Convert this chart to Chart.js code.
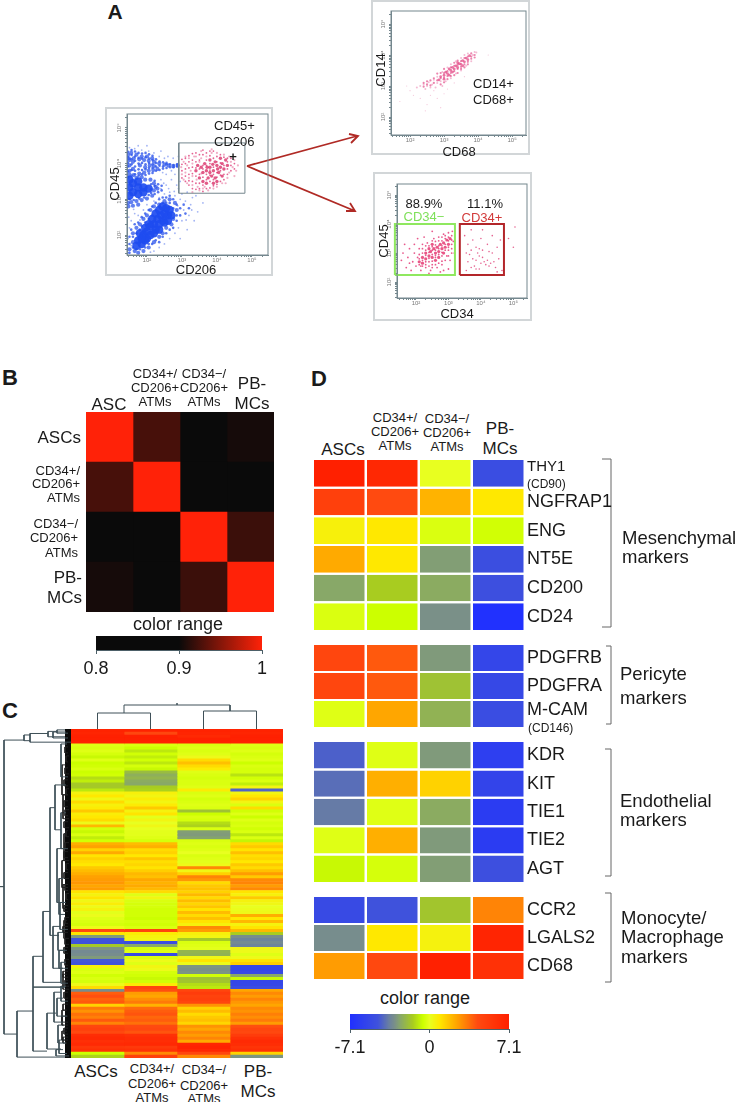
<!DOCTYPE html>
<html>
<head>
<meta charset="utf-8">
<title>ATM expression figure</title>
<script src="https://cdn.jsdelivr.net/npm/chart.js@4/dist/chart.umd.min.js"></script>
<style>
  html, body { margin: 0; background: #fff; }
  #page { position: relative; width: 738px; height: 1102px; overflow: hidden; font-family: "Liberation Sans", Arial, sans-serif; color: #1a1a1a; }
  #page canvas { position: absolute; display: block; }
  #page svg { position: absolute; left: 0; top: 0; }
  .t { position: absolute; white-space: nowrap; line-height: 1; }
  .frame { position: absolute; border: 2px solid #d2d6d8; box-sizing: border-box; }
</style>
</head>
<body>
<div id="page">
  <div class="frame" style="left:105px;top:107px;width:168px;height:169px"></div>
  <div class="frame" style="left:371px;top:0;width:159px;height:155px"></div>
  <div class="frame" style="left:373px;top:172px;width:159px;height:149px"></div>
  <svg width="738" height="1102" fill="none">
    <g stroke="#b02a25" stroke-width="1.8">
      <path d="M247 166 L357 136 M349 134 L358 136 L351 143"/>
      <path d="M247 166 L355 211 M346 211 L355 211 L350 203"/>
    </g>
    <g stroke="#666" stroke-width="1">
      <path d="M602 459 H611 V627 H602"/>
      <path d="M606 646 H611 V724 H606"/>
      <path d="M605 749 H611 V876 H605"/>
      <path d="M605 893 H611 V982 H605"/>
    </g>
  </svg>
</div>
<script>
// panel A, all values are log10 fluorescence
const decades = [2, 3, 4, 5];

const cd206Core = [[1.5,3.33],[1.6,3.2],[1.6,3.45],[1.75,3.33],[1.75,3.15],[1.75,3.5],[1.9,3.33],[1.9,3.2],[2.05,3.3],[1.5,3.1],[1.5,3.55],
  [1.75,1.85],[1.9,2.0],[1.85,1.75],[2.0,2.1],[2.1,2.0],[2.1,2.25],[2.2,2.3],[2.25,2.15],[2.3,2.45],[2.4,2.55],[2.45,2.4],[2.5,2.6],[2.55,2.75],[2.35,2.3],[1.95,1.85],[2.65,2.7],[2.6,2.55],
  [2.05,2.3],[2.15,2.45],[2.25,2.6],[2.35,2.7],[2.45,2.8],[1.8,2.05],[1.95,2.2],[2.0,1.9],[2.2,2.05],[2.35,2.15],[2.5,2.35],[2.6,2.4],[2.7,2.55],[1.7,1.7],[1.85,1.9]];
const cd206Mid = [[1.5,3.95],[1.6,4.05],[1.6,3.85],[1.8,3.95],[1.95,3.9],[1.5,4.1],[1.5,3.8],
  [1.46,4.25],[1.55,4.3],[1.7,4.25],[1.85,4.2],[2.0,4.2],[2.15,4.15],[1.48,4.15],[1.62,4.15],[1.78,4.12],[1.92,4.1],[2.05,4.08],[2.2,4.05],[2.35,4.0],[2.5,3.97],[2.62,3.95],[2.75,3.93],[2.88,3.95],[1.5,3.7],[1.62,3.68],[1.78,3.72],[1.92,3.75],[2.05,3.8],[2.18,3.82],[2.3,3.85],[2.08,3.95],[2.2,3.93],[1.7,3.6],[1.85,3.62],
  [1.46,2.9],[1.55,2.92],[1.7,2.95],[1.85,2.98],[2.0,3.02],[2.15,3.1],[2.2,3.25],[2.25,3.35],[2.2,3.45],[2.1,3.55],[1.95,3.55],[2.3,3.3],[1.47,2.8],[1.6,2.82],[1.75,2.85],
  [1.5,1.6],[1.65,1.55],[1.6,1.8],[1.6,2.05],[1.7,2.2],[1.8,2.3],[1.9,2.45],[2.0,2.55],[2.1,2.7],[2.2,2.8],[2.35,2.85],[2.5,2.95],[2.65,3.0],[2.8,2.9],[2.85,2.7],[2.75,2.45],[2.7,2.3],[2.55,2.2],[2.45,2.05],[2.35,1.95],[2.2,1.8],[2.05,1.65],[1.9,1.55],[1.75,1.5]];
const cd206Fine = [[1.46,3.62],[1.46,3.78],[1.46,3.92],[1.46,4.02],[1.46,4.18],[1.46,4.33],[1.56,3.66],[1.56,3.82],[1.56,3.98],[1.56,4.12],[1.56,4.24],[1.56,4.38],
  [1.66,3.7],[1.66,3.8],[1.66,3.92],[1.66,4.08],[1.66,4.2],[1.66,4.34],[1.76,3.66],[1.76,3.84],[1.76,4.0],[1.76,4.16],[1.76,4.3],[1.86,3.7],[1.86,3.82],[1.86,4.02],[1.86,4.14],[1.86,4.28],
  [1.96,3.68],[1.96,3.84],[1.96,3.98],[1.96,4.18],[1.96,4.3],[2.06,3.72],[2.06,3.88],[2.06,4.02],[2.06,4.14],[2.06,4.26],[2.16,3.74],[2.16,3.88],[2.16,3.98],[2.16,4.1],[2.16,4.22],
  [2.26,3.8],[2.26,3.92],[2.26,4.02],[2.26,4.12],[2.36,3.82],[2.36,3.94],[2.36,4.06],[2.46,3.86],[2.46,3.92],[2.46,4.04],[2.56,3.88],[2.56,3.98],[2.56,4.02],[2.66,3.9],[2.66,3.98],[2.76,3.9],[2.76,3.96],[2.86,3.92],[2.86,3.98],
  [2.12,3.18],[2.12,3.28],[2.12,3.42],[2.22,3.15],[2.22,3.38],[2.22,3.52],[2.32,3.2],[2.32,3.42],[2.42,3.25],[2.42,3.38],[1.5,3.0],[1.62,2.98],[1.78,3.02],[1.92,3.05],[2.05,3.12],
  [1.5,1.5],[1.5,1.75],[1.5,1.95],[1.55,2.15],[1.6,1.65],[1.6,1.95],[1.65,2.3],[1.7,1.6],[1.7,2.05],[1.75,2.35],[1.8,1.6],[1.8,2.15],[1.85,2.25],[1.85,2.5],[1.95,1.65],[1.95,2.35],[1.95,2.6],[2.05,1.75],[2.05,2.45],[2.05,2.7],
  [2.15,1.75],[2.15,2.55],[2.15,2.8],[2.25,1.85],[2.25,2.7],[2.25,2.9],[2.35,1.8],[2.35,2.8],[2.35,3.0],[2.45,1.95],[2.45,2.9],[2.45,3.05],[2.55,2.05],[2.55,2.9],[2.55,3.05],[2.65,2.15],[2.65,2.9],[2.65,3.1],[2.75,2.2],[2.75,2.75],[2.75,3.0],[2.85,2.4],[2.85,2.55],[2.85,2.85],[2.95,2.55],[2.95,2.75],[3.05,2.85],[3.1,2.6],[3.2,2.75]];
const cd206Sparse = [[1.46,1.5],[1.46,1.9],[1.5,2.2],[1.48,2.5],[1.55,2.4],[1.65,2.6],[1.75,2.55],[1.9,2.7],[2.0,2.85],[2.2,2.95],[2.35,3.05],[2.5,3.15],[2.65,3.2],[2.8,3.1],[2.95,3.0],[3.1,2.95],[3.25,2.85],[3.05,2.7],[3.2,2.55],[3.0,2.4],[2.9,2.2],[2.8,2.05],[2.65,1.9],[2.5,1.75],[2.35,1.65],[2.2,1.55],[2.95,1.9],[3.15,2.15],[3.35,2.4],[3.45,2.65],[3.6,2.9],[3.3,3.05],[3.0,3.15],
  [2.4,3.3],[2.55,3.4],[2.4,3.55],[2.7,3.55],[2.55,3.7],[2.8,3.7],[2.45,3.75],[2.7,3.8],[2.35,4.2],[2.5,4.15],[2.6,4.2],[2.75,4.15],[2.9,4.2],[2.2,4.3],[2.05,4.35],[1.85,4.38],[1.65,4.42],[1.5,4.45],[2.4,4.35],[1.75,4.5],[2.0,4.5],[2.9,3.3],[2.95,3.5],[2.85,3.4],[3.15,3.2],[3.4,3.1],
  [2.62,3.3],[2.78,3.22],[2.48,3.45],[2.88,2.82],[2.62,2.55],[2.42,2.22],[2.1,1.52],[1.55,1.7],[1.8,2.42],[1.62,2.72],[2.28,2.62],[3.12,2.42],[3.28,2.7]];
const gatedDense = [[3.7,3.8],[3.8,3.9],[3.9,3.8],[4.0,3.95],[4.1,3.9],[4.15,4.0],[3.95,4.05],[3.85,3.65],[3.75,3.6],[3.95,3.6],[4.05,3.75],[4.2,3.85],[3.6,3.75],[3.55,3.9],[3.65,4.0],[3.8,4.1],[4.1,4.15],[4.25,4.1],[4.3,3.95],[3.9,3.45],[3.7,3.45],[3.5,3.6],[4.0,3.5],[4.15,3.65],[3.4,3.8],[3.45,3.95],[3.6,3.5],[3.8,3.75],[3.88,3.98],[3.72,3.9],[4.02,3.85]];
const gatedLight = [[2.98,3.9],[3.05,4.05],[3.1,3.75],[3.15,3.95],[3.2,4.15],[3.05,3.55],[3.2,3.6],[3.25,3.8],[3.3,4.0],[3.35,4.2],[3.15,3.45],[3.3,3.4],[3.45,3.35],[3.6,3.3],[3.75,3.25],[3.9,3.3],[3.4,4.2],[3.55,4.15],[3.7,4.2],[3.85,4.3],[4.0,4.3],[4.2,4.25],[4.35,4.2],[4.4,4.05],[4.45,3.9],[4.35,3.75],[4.3,3.6],[4.15,3.45],[4.0,3.35],[3.5,3.25],[3.3,3.2],[4.5,4.1],[4.6,3.95],[4.55,3.8],[3.42,3.55],[3.55,3.72],[3.3,3.65],[3.5,4.05],[3.1,4.2],[3.0,3.7],[3.65,3.35],[4.25,3.45],[4.5,3.65],[3.85,4.4],[3.55,4.35]];
const gatedFine = [[3.0,3.6],[3.0,3.8],[3.0,3.98],[3.0,4.12],[3.1,3.5],[3.1,3.65],[3.1,3.85],[3.1,4.0],[3.1,4.15],[3.2,3.4],[3.2,3.52],[3.2,3.7],[3.2,3.88],[3.2,4.05],[3.2,4.22],[3.3,3.3],[3.3,3.5],[3.3,3.72],[3.3,3.9],[3.3,4.1],[3.3,4.28],
  [3.4,3.28],[3.4,3.45],[3.4,3.65],[3.4,3.88],[3.4,4.05],[3.4,4.3],[3.5,3.3],[3.5,3.45],[3.5,3.7],[3.5,3.85],[3.5,4.1],[3.5,4.25],[3.6,3.22],[3.6,3.4],[3.6,3.62],[3.6,3.85],[3.6,3.95],[3.6,4.25],[3.6,4.38],
  [3.7,3.3],[3.7,3.55],[3.7,3.7],[3.7,3.95],[3.7,4.1],[3.7,4.3],[3.8,3.32],[3.8,3.5],[3.8,3.68],[3.8,3.82],[3.8,4.0],[3.8,4.22],[3.8,4.35],[3.9,3.38],[3.9,3.55],[3.9,3.7],[3.9,3.9],[3.9,4.15],[3.9,4.35],
  [4.0,3.42],[4.0,3.62],[4.0,3.75],[4.0,4.05],[4.0,4.2],[4.1,3.5],[4.1,3.68],[4.1,3.8],[4.1,4.02],[4.1,4.25],[4.2,3.55],[4.2,3.7],[4.2,3.95],[4.2,4.18],[4.3,3.7],[4.3,3.85],[4.3,4.05],[4.3,4.15],[4.4,3.8],[4.4,3.95],[4.4,4.15],[4.5,3.85],[4.5,4.0]];

const cd68Dense = [[2.9,3.3],[3.0,3.35],[3.05,3.45],[3.1,3.4],[3.15,3.55],[3.2,3.5],[3.25,3.6],[3.3,3.55],[3.35,3.65],[3.4,3.6],[3.45,3.72],[3.5,3.7],[3.55,3.82],[3.6,3.78],[3.65,3.9],[3.25,3.45],[3.4,3.75],[3.55,3.65],[3.7,3.85],[3.75,3.98],[3.15,3.35],[3.0,3.22],[2.85,3.2]];
const cd68Light = [[2.3,3.0],[2.4,3.05],[2.5,3.0],[2.55,3.12],[2.65,3.05],[2.7,3.2],[2.8,3.1],[2.8,3.3],[2.9,3.15],[2.95,3.45],[3.05,3.15],[3.1,3.6],[3.2,3.25],[3.2,3.7],[3.35,3.4],[3.35,3.8],[3.5,3.5],[3.5,3.9],[3.65,3.65],[3.6,4.0],[3.8,3.8],[3.7,4.05],[3.85,4.0],[3.9,4.1],[3.95,4.08],[2.6,2.95],[2.45,2.9],[2.2,2.95],[2.75,2.95],[2.95,3.0]];
const cd68Fine = [[2.4,2.98],[2.4,3.1],[2.5,3.05],[2.5,3.15],[2.6,3.02],[2.6,3.18],[2.7,3.1],[2.7,3.25],[2.8,3.18],[2.8,3.4],[2.9,3.05],[2.9,3.25],[2.9,3.42],[3.0,3.12],[3.0,3.28],[3.0,3.42],[3.0,3.55],[3.1,3.22],[3.1,3.32],[3.1,3.48],[3.2,3.32],[3.2,3.42],[3.2,3.6],
  [3.3,3.35],[3.3,3.48],[3.3,3.65],[3.3,3.75],[3.4,3.42],[3.4,3.55],[3.4,3.68],[3.4,3.82],[3.5,3.55],[3.5,3.62],[3.5,3.8],[3.6,3.6],[3.6,3.7],[3.6,3.9],[3.7,3.7],[3.7,3.78],[3.7,3.95],[3.8,3.88],[3.8,3.95],[3.8,4.05],[3.9,3.92],[3.9,4.0]];
const cd68Faint = [[1.9,3.0],[2.0,2.85],[2.1,2.7],[2.3,2.6],[2.5,2.4],[2.6,2.7],[2.8,2.6],[2.9,2.3],[3.1,2.9],[2.45,2.2],[2.7,2.85],[3.3,3.1],[4.3,4.0],[1.7,2.5],[3.0,2.75],[3.6,3.3]];

const cd34NegDense = [[2.1,2.7],[2.2,2.85],[2.3,2.8],[2.3,3.0],[2.4,2.9],[2.45,3.05],[2.5,2.85],[2.55,3.15],[2.6,3.0],[2.65,3.2],[2.7,3.05],[2.75,3.3],[2.8,3.15],[2.85,3.35],[2.9,3.2],[2.95,3.45],[3.0,3.3],[2.6,2.75],[2.4,3.15],[2.7,2.85],[2.2,2.65],[2.5,3.3],[2.85,3.0],[3.05,3.5]];
const cd34NegLight = [[1.55,2.75],[1.6,3.0],[1.7,2.5],[1.75,2.85],[1.8,3.15],[1.85,2.4],[1.9,2.7],[1.95,3.0],[1.95,3.3],[2.0,2.55],[2.05,2.85],[2.1,3.15],[2.15,2.4],[2.2,3.3],[2.3,2.5],[2.35,3.35],[2.45,2.4],[2.5,2.6],[2.55,3.5],[2.65,2.5],[2.7,3.55],[2.8,2.6],[2.85,3.65],[2.95,2.9],[3.0,3.7],[3.05,2.75],[3.1,3.15],[3.12,3.75],[3.15,3.4],[2.4,2.3],[2.75,2.35],[3.0,2.45],[2.25,3.55],[2.5,3.75],[2.05,3.5],[1.65,3.3],[3.18,3.0],[2.85,2.4],[2.15,2.55],[1.8,2.65],
  [2.1,2.6],[2.1,2.8],[2.1,2.95],[2.2,2.55],[2.2,2.75],[2.2,3.0],[2.2,3.15],[2.3,2.6],[2.3,2.7],[2.3,2.92],[2.3,3.1],[2.3,3.25],[2.4,2.55],[2.4,2.7],[2.4,2.82],[2.4,3.02],[2.4,3.25],[2.5,2.5],[2.5,2.72],[2.5,2.95],[2.5,3.1],[2.5,3.22],[2.5,3.42],
  [2.6,2.6],[2.6,2.85],[2.6,2.92],[2.6,3.1],[2.6,3.28],[2.6,3.4],[2.7,2.65],[2.7,2.95],[2.7,3.15],[2.7,3.25],[2.7,3.42],[2.8,2.72],[2.8,2.9],[2.8,3.02],[2.8,3.25],[2.8,3.42],[2.8,3.55],[2.9,2.75],[2.9,3.1],[2.9,3.3],[2.9,3.5],[2.9,3.6],[3.0,2.9],[3.0,3.1],[3.0,3.2],[3.0,3.42],[3.0,3.55],[3.1,3.0],[3.1,3.3],[3.1,3.45],[3.1,3.6]];
const cd34Pos = [[3.5,3.6],[3.6,3.3],[3.55,3.0],[3.6,2.7],[3.55,2.4],[3.7,3.8],[3.75,3.45],[3.7,3.1],[3.75,2.8],[3.7,2.5],[3.85,3.2],[3.9,3.0],[3.85,2.75],[3.85,2.45],[3.95,2.9],[3.95,3.15],[4.0,2.65],[4.05,2.85],[4.0,3.5],[4.05,3.8],[4.1,2.7],[4.15,2.6],[4.2,2.75],[4.2,3.3],[4.25,2.55],[4.3,2.65],[4.35,3.0],[4.35,3.6],[4.4,2.7],[4.45,2.5],[4.5,3.2],[4.55,2.8],[4.6,3.45],[4.65,2.4],[4.05,3.1],[3.8,2.55],[3.65,2.95],[4.5,2.35],[3.95,2.45],[4.25,3.05],[4.85,3.5],[5.05,3.9],[5.0,3.2]];

const cd206Gate = [[2.91,3.17],[4.8,3.17],[4.8,4.58],[2.91,4.58],[2.91,3.17]];
const cd34NegGate = [[1.35,2.24],[3.2,2.24],[3.2,4.0],[1.35,4.0],[1.35,2.24]];
const cd34PosGate = [[3.35,2.24],[4.71,2.24],[4.71,4.0],[3.35,4.0],[3.35,2.24]];

// panel B, correlation
const corrRows = ['ASCs', 'CD34+', 'CD34-', 'PB-MCs'];
const corrValues = [
  [1, 0.925, 0.82, 0.905],
  [0.925, 1, 0.82, 0.82],
  [0.82, 0.82, 1, 0.92],
  [0.905, 0.82, 0.92, 1]
];
const corrTicks = [0.8, 0.9, 1];

// panel C, one row per stripe: ASCs, CD34+, CD34-, PB-MCs
const clusterValues = [
  [6.9,6.9,6.9,6.9],[6.8,4.5,6.8,6.8],[7,7,6.5,7],[7,7,7,7],[7,7,7,7],
  [-0.2,-0.3,-0.3,-0.2],[-0.3,-0.6,-0.2,-0.3],[-0.2,-1,-0.3,-0.2],[-0.4,-0.5,-0.2,-0.4],[-0.7,-0.9,0.2,-0.3],
  [-0.2,-0.5,1.2,-0.2],[-0.6,-1,1.8,-0.6],[-0.5,-0.4,1.2,-0.3],[-0.3,-0.7,0.8,-0.4],[-0.6,-2,-0.2,-0.4],
  [-0.5,-2.4,-0.3,-1.1],[-1.2,-2.2,-0.4,-0.5],[-0.9,-2.5,-0.3,-0.3],[-1.6,-2.6,-0.3,-0.9],[-1.6,-1.5,-0.2,0.4],[-1,-1.4,0.8,-4.2],
  [0.5,0.6,-0.3,0.4],[0.9,0.4,-0.2,0.9],[0.3,0.7,-0.4,1.4],[1.2,0.4,-0.3,0.4],[0.6,0.8,-0.2,-0.3],[0.8,1.6,-0.3,1.2],
  [1.6,0.5,-1.8,-0.5],[0.7,1,-0.6,-0.2],[0.9,-0.1,-0.3,-0.6],[1.2,0.4,-0.4,-0.2],[0.2,0,-1.2,-0.4],[2,0.3,-1.4,-0.3],
  [-0.4,0,-0.3,-0.5],[-0.7,-0.1,-2.8,-0.3],[-0.3,-0.1,-2.9,-1],[-0.9,-0.2,-2.7,-0.3],[-0.5,-0.4,-0.3,-0.8],
  [2.2,1.9,-0.2,1.2],[2.5,2.2,-0.3,1.6],[1.4,1.2,-0.2,1],[2.3,1.4,0,1.8],[1,0.9,-0.3,1.1],[1.4,1.7,-0.2,1.3],[1.1,1.1,-0.1,0.9],[0.9,1.3,0.2,1.6],
  [1.6,1,3,1.2],[1.9,1.5,0.3,1.8],[2.2,2,1.4,2.6],[2.5,1.8,3.1,1.6],[2.6,2.4,2.7,3],[2.7,2.1,1.2,3.1],[2.4,2.3,1.6,2.6],[2.6,2,1.8,3],
  [1,1.2,1.4,1],[0.5,-0.2,2,0.6],[1,0.4,1.2,1.6],[0.3,-0.3,1.9,0.5],[0.7,-0.4,1.3,0.3],[0.2,-0.4,1.7,0],[0.5,-0.5,1,0.1],[-0.1,-0.5,1.9,0.2],
  [0.1,-0.5,1.2,2.2],[-0.2,-0.6,1.8,0.9],[-0.3,-0.4,1,2],[-0.4,-0.5,0.6,0.5],[0.2,-0.3,3,1],
  [4.4,4.8,2.6,2],[1,0.8,0.6,-1.5],[-2.9,0.5,0.4,-3.2],[-4.6,0.4,-1.6,-3.5],[-4.7,-4.9,-0.3,-3.3],[-1.6,-2.6,-0.2,-3.5],[-3,-0.4,-0.1,0.4],
  [-3.3,-0.2,-2.2,0.2],[-3.2,-5.2,-2.3,-0.2],[-2.9,-0.3,0.3,0.2],[-4.5,0.2,1,1],[-4.6,-0.2,0.2,1.5],
  [0.6,0.4,-3,-5.3],[-0.3,0.2,-3.1,-5.4],[-0.2,-0.4,-3,-5.2],[-0.5,-0.5,-0.5,-2.6],[-0.3,-0.7,-1.8,-0.7],[-0.4,-0.5,-1.7,-5.5],[0.2,0.8,-1.2,-5.4],[1.2,4.6,-1,-5],
  [-3.2,4.2,4.6,2.4],[3.9,2.6,5.2,3],[4.2,2.4,4.8,2.6],[3.8,2.9,5,3.1],[4,3.3,4.6,2.7],[1.4,2.1,2.8,2.4],
  [3.3,3.6,1.4,3],[2.8,3.9,1.9,2.8],[3.5,4.1,1.2,3.2],[3.2,3.7,1.6,2.9],[4,3.9,1.8,3.3],[3.1,3.5,1.3,2.6],
  [4.6,4.3,2.8,4.2],[4.9,4.5,2.4,4.6],[4.4,4.1,3,4.4],[6.2,6,2.6,5.2],[6.5,6.3,3.1,6],[6.1,6.2,2.3,6.4],
  [6.4,6.5,6.8,6.2],[5.6,5.4,7,5.8],[6,5.9,6.6,6.1],[-0.6,3,4.5,1.4],[-1.4,5,3,-3]
];

// dendrograms, each link: merge height, child A position, child B position, child A height, child B height
const sampleLinks = [
  [16, 0.5, 1.5, 0, 0],
  [18, 2.5, 3.5, 0, 0],
  [24, 1, 3, 16, 18],
  [26, 2, 2, 24, 24]
];
const geneLinks = [
  [71,52.7,52.7,67,67],[67,3.7,102,47,54],[47,2,3.9,41,41],[41,1.5,4.4,23,0],[23,0.8,2.6,14,6],[14,0.3,1.4,6,3],[18,1,3,5,3],
  [54,94.3,109.7,38,6],[38,76,107.7,28,24],[38,86.3,86.3,6,6],[28,61,84.7,21,10],[21,26.3,69,16,12],[16,18.7,33.7,5,10],
  [12,50,62,8,6],[14,40,58,7,5],[10,5,16,4,3],[9,12,22,5,3],[8,22,30,4,2],[10,28,40,5,3],[7,35,44,4,2],[9,44,53,5,3],[8,52,60,3,4],
  [11,58,67,6,3],[7,64,70,4,2],[18,66,80,11,8],[13,68,74,7,4],[12,74,80,6,3],[10,78,85,5,3],[8,82,87,4,2],[24,95,107,15,10],
  [17,88,98,10,8],[14,90,96,8,4],[10,86,91,5,3],[9,94,99,5,3],[13,99,105,7,5],[9,101,104,4,3],[12,104,108.5,6,4],[15,107.2,109.3,8,2],
  [6,6,8,3,3],[5,9,11,2,3],[6,13,15,3,2],[7,17,19,3,3],[5,20,22,2,3],[7,24,26,3,3],[6,27,29,2,3],[7,31,33,3,2],[5,34,36,3,2],[6,38,40,2,3],
  [7,41,43,3,3],[5,45,47,2,3],[7,48,50,3,2],[6,52,54,3,3],[5,55,57,2,3],[7,59,61,3,3],[6,63,65,2,3],[8,66,68,3,3],[6,70,72,3,2],[7,73,75,3,3],
  [6,77,79,2,3],[8,81,83,3,3],[6,84,86,3,2],[7,88,90,3,3],[8,92,94,3,4],[9,96,98,3,3],[7,100,102,3,3],[8,103,105,3,4]
];
const leafBand = [[3,0],[3,110]];

// panel D, log2 fold colours, same column order as panel C
const mesenchymalGenes = ['THY1', 'NGFRAP1', 'ENG', 'NT5E', 'CD200', 'CD24'];
const mesenchymalValues = [[7.1,6.6,0,-5],[5,4.3,2.1,0.9],[0.6,0.9,-0.3,-0.5],[2.3,0.9,-2.8,-4.9],[-2.6,-1.5,-2.5,-4.8],[-0.3,-0.6,-3.1,-7]];
const pericyteGenes = ['PDGFRB', 'PDGFRA', 'M-CAM'];
const pericyteValues = [[4.6,4,-2.9,-5.5],[4.6,4,-1.8,-5.3],[-0.2,2.4,-2.3,-5]];
const endothelialGenes = ['KDR', 'KIT', 'TIE1', 'TIE2', 'AGT'];
const endothelialValues = [[-4.3,-0.2,-2.9,-6],[-4,2.2,1.4,-5.6],[-3.7,-0.2,-2.5,-6.2],[-0.2,2.2,-2.9,-6.2],[-0.7,-0.4,-2.8,-4.8]];
const monocyteGenes = ['CCR2', 'LGALS2', 'CD68'];
const monocyteValues = [[-5.2,-4.6,-1.7,3.1],[-3.2,0.9,0.5,6.8],[2.6,4.4,7,6]];
const foldTicks = [-7.1, 0, 7.1];

// colour ramps
const corrStops = [[0.8,'#0a0a0a'],[0.9,'#0a0a0a'],[1,'#ff2208']];
const foldStops = [[-7.1,'#2030ff'],[-4.6,'#3f52dc'],[-3.6,'#6a80a0'],[-3.1,'#7a9088'],[-2.6,'#88a868'],[-1.5,'#a8cc20'],[-0.6,'#ccff00'],[0,'#e8ff20'],[0.9,'#ffe800'],[2.4,'#ffa600'],[4.3,'#ff4a10'],[7.1,'#ff2000']];

const page = document.getElementById('page');

function rampColor(stops, v) {
  let i = 1;
  while (i < stops.length - 1 && v > stops[i][0]) i++;
  const [a, ca] = stops[i - 1], [b, cb] = stops[i];
  const k = Math.max(0, Math.min(1, (v - a) / (b - a)));
  const rgb = [1, 3, 5].map(p => {
    const s = parseInt(ca.substr(p, 2), 16), e = parseInt(cb.substr(p, 2), 16);
    return Math.round(s + (e - s) * k);
  });
  return `rgb(${rgb.join(',')})`;
}

function makeCanvas(left, top, width, height) {
  const c = document.createElement('canvas');
  c.width = width; c.height = height;
  c.style.left = left + 'px'; c.style.top = top + 'px';
  c.style.width = width + 'px'; c.style.height = height + 'px';
  page.appendChild(c);
  return c.getContext('2d');
}

function label(lines, x, y, size, opts) {
  opts = opts || {};
  [].concat(lines).forEach((text, i) => {
    const d = document.createElement('div');
    d.className = 't';
    d.textContent = text;
    d.style.fontSize = size + 'px';
    d.style.left = x + 'px';
    d.style.top = ((opts.ys ? opts.ys[i] : y)) + 'px';
    if (opts.color) d.style.color = opts.color;
    if (opts.bold) d.style.fontWeight = 'bold';
    const shift = opts.align === 'right' ? '-100%' : opts.align === 'left' ? '0' : '-50%';
    d.style.transform = `translate(${shift},-50%)` + (opts.rotate ? ' rotate(-90deg)' : '');
    page.appendChild(d);
  });
}

// grey box round the plot and rotated y decade labels
const flowFrame = {
  id: 'flowFrame',
  afterDatasetsDraw(chart) {
    const { ctx, chartArea: a, scales } = chart;
    ctx.save();
    ctx.strokeStyle = '#75878e';
    ctx.lineWidth = 1;
    ctx.strokeRect(a.left, a.top, a.right - a.left, a.bottom - a.top);
    ctx.fillStyle = '#777';
    ctx.font = '6px "Liberation Sans"';
    ctx.textAlign = 'center';
    decades.forEach(d => {
      ctx.save();
      ctx.translate(a.left - 6, scales.y.getPixelForValue(d));
      ctx.rotate(-Math.PI / 2);
      ctx.fillText('10' + '²³⁴⁵'[d - 2], 0, 0);
      ctx.restore();
    });
    ctx.restore();
  }
};

function decadeScale(min, max, isY) {
  return {
    type: 'linear', min, max,
    grid: { drawOnChartArea: false, tickLength: 2, color: '#75878e' },
    border: { color: '#75878e' },
    afterBuildTicks(scale) {
      const out = [];
      for (let d = 1; d <= 5; d++) {
        [1, 2, 3, 4, 5, 6, 7, 8, 9].forEach(m => {
          const v = d + Math.log10(m);
          if (v >= min && v <= max) out.push({ value: v });
        });
      }
      scale.ticks = out;
    },
    afterFit(scale) {
      if (isY) scale.width = 10; else scale.height = 12;
      scale.paddingLeft = scale.paddingRight = scale.paddingTop = scale.paddingBottom = 0;
    },
    ticks: {
      display: !isY, autoSkip: false, maxRotation: 0, padding: 0,
      color: '#777', font: { size: 6, family: 'Liberation Sans' },
      callback: v => (decades.includes(v) ? '10' + '²³⁴⁵'[v - 2] : '')
    }
  };
}

function cloud(data, radius, color) {
  return { data, pointRadius: radius, pointBackgroundColor: color, pointBorderWidth: 0, showLine: false };
}
function gate(data, color, width) {
  return { data, pointRadius: 0, showLine: true, borderColor: color, borderWidth: width, clip: false };
}

function flowChart(l, t, r, b, xr, yr, datasets) {
  const ctx = makeCanvas(l - 10, t - 6, r - l + 16, b - t + 18);
  new Chart(ctx, {
    type: 'scatter',
    data: { datasets },
    plugins: [flowFrame],
    options: {
      responsive: false, animation: false,
      layout: { padding: { top: 6, right: 6 } },
      plugins: { legend: { display: false }, tooltip: { enabled: false } },
      scales: { x: decadeScale(xr[0], xr[1], false), y: decadeScale(yr[0], yr[1], true) }
    }
  });
}

// gene labels sitting above the (CD..) note get lifted with an empty second line
const liftedGenes = { 'THY1': { size: 15, lineHeight: 0.8 }, 'M-CAM': { size: 18, lineHeight: 0.45 } };

// heatmap: stacked unit bars, one dataset per column, colour from the value
function heatChart(l, t, w, h, rows, values, stops, opts) {
  opts = opts || {};
  const names = rows ? rows.map(r => (liftedGenes[r] ? [r, ''] : r)) : values.map((_, i) => String(i));
  const extra = opts.labelWidth || 0;
  const ctx = makeCanvas(l, t, w + extra, h);
  const colCount = values[0].length;
  const datasets = [];
  for (let c = 0; c < colCount; c++) {
    datasets.push({
      data: values.map(() => 1),
      backgroundColor: values.map(row => rampColor(stops, row[c])),
      borderColor: '#fff',
      borderWidth: opts.colGap ? { left: opts.colGap, right: opts.colGap, top: 0, bottom: 0 } : 0,
      barPercentage: opts.rowFill || 1,
      categoryPercentage: 1
    });
  }
  new Chart(ctx, {
    type: 'bar',
    data: { labels: names, datasets },
    options: {
      indexAxis: 'y', responsive: false, animation: false,
      plugins: { legend: { display: false }, tooltip: { enabled: false } },
      scales: {
        x: { stacked: true, min: 0, max: colCount, display: false },
        y: {
          stacked: true, position: 'right', display: !!extra,
          grid: { display: false, drawTicks: false }, border: { display: false },
          afterFit(scale) {
            scale.width = extra;
            scale.paddingTop = scale.paddingBottom = 0;
          },
          ticks: {
            autoSkip: false, padding: 1, color: '#1a1a1a',
            font(c) {
              const name = [].concat(c.tick ? c.tick.label : '')[0];
              return Object.assign({ family: 'Liberation Sans', size: 18 }, liftedGenes[name]);
            }
          }
        }
      }
    }
  });
}

function colorBar(l, t, w, h, range, ticks, stops) {
  const ctx = makeCanvas(l - 25, t, w + 50, h + 30);
  new Chart(ctx, {
    type: 'bar',
    data: {
      labels: ['color range'],
      datasets: [{
        data: [range],
        barPercentage: 1, categoryPercentage: 1,
        backgroundColor(c) {
          const a = c.chart.chartArea;
          if (!a) return '#000';
          const g = c.chart.ctx.createLinearGradient(a.left, 0, a.right, 0);
          stops.forEach(s => g.addColorStop((s[0] - range[0]) / (range[1] - range[0]), s[1]));
          return g;
        }
      }]
    },
    options: {
      indexAxis: 'y', responsive: false, animation: false,
      layout: { padding: { left: 25, right: 25 } },
      plugins: { legend: { display: false }, tooltip: { enabled: false } },
      scales: {
        x: {
          type: 'linear', min: range[0], max: range[1],
          grid: { drawOnChartArea: false, tickLength: 4, color: '#4d6068' },
          border: { color: '#4d6068' },
          afterBuildTicks(scale) { scale.ticks = ticks.map(value => ({ value })); },
          afterFit(scale) { scale.height = 30; scale.paddingLeft = scale.paddingRight = 0; },
          ticks: {
            autoSkip: false, maxRotation: 0, padding: 4, color: '#1a1a1a',
            font: { size: 18, family: 'Liberation Sans' },
            callback: v => String(v)
          }
        },
        y: { display: false }
      }
    }
  });
}

function dendrogram(l, t, w, h, links, xScale, yScale, horizontal, extra) {
  const ctx = makeCanvas(l, t, w, h);
  const path = horizontal
    ? k => [[k[3], k[1]], [k[0], k[1]], [k[0], k[2]], [k[4], k[2]]]
    : k => [[k[1], k[3]], [k[1], k[0]], [k[2], k[0]], [k[2], k[4]]];
  const datasets = links.map(k => ({
    data: path(k), pointRadius: 0, showLine: true, borderColor: k[0] < 10 ? '#222' : '#3f5058', borderWidth: 1, clip: false
  }));
  if (extra) datasets.push(extra);
  new Chart(ctx, {
    type: 'scatter',
    data: { datasets },
    options: {
      responsive: false, animation: false,
      plugins: { legend: { display: false }, tooltip: { enabled: false } },
      scales: { x: Object.assign({ display: false }, xScale), y: Object.assign({ display: false }, yScale) }
    }
  });
}

// panel A
flowChart(127, 114, 268, 255, [1.43, 5.46], [1.44, 5.39], [
  gate(cd206Gate, '#75878e', 1),
  cloud(gatedDense, 1.7, 'rgba(215,35,95,0.75)'),
  cloud(gatedFine, 0.9, 'rgba(222,60,120,0.8)'),
  cloud(gatedLight, 1.1, 'rgba(232,120,160,0.6)'),
  cloud(cd206Core, 4.2, 'rgba(30,76,240,0.92)'),
  cloud(cd206Mid, 2.1, 'rgba(45,85,235,0.75)'),
  cloud(cd206Fine, 1.3, 'rgba(45,85,235,0.8)'),
  cloud(cd206Sparse, 0.9, 'rgba(90,120,235,0.55)')
]);
flowChart(391, 11, 526, 135, [1.44, 5.41], [1.42, 5.42], [
  cloud(cd68Dense, 1.4, 'rgba(225,60,125,0.7)'),
  cloud(cd68Fine, 1.1, 'rgba(228,80,140,0.7)'),
  cloud(cd68Light, 1, 'rgba(235,130,175,0.55)'),
  cloud(cd68Faint, 0.6, 'rgba(235,150,185,0.55)')
]);
flowChart(397, 184, 527, 298, [1.415, 5.42], [1.45, 5.38], [
  gate(cd34NegGate, '#8fe85f', 2),
  gate(cd34PosGate, '#b3262a', 2),
  cloud(cd34NegDense, 1.6, 'rgba(228,45,105,0.8)'),
  cloud(cd34NegLight, 0.9, 'rgba(228,60,120,0.85)'),
  cloud(cd34Pos, 0.8, 'rgba(225,70,125,0.85)')
]);

label(['CD45+', 'CD206'], 214, 0, 13, { align: 'left', ys: [125, 141] });
label('+', 233, 156, 13, { bold: true });
label('CD45', 114, 184, 13, { rotate: true });
label('CD206', 196, 269, 13);
label(['CD14+', 'CD68+'], 473, 0, 13, { align: 'left', ys: [83, 99] });
label('CD14', 380, 70, 13, { rotate: true });
label('CD68', 459, 151, 13);
label('88.9%', 424, 203, 13);
label('11.1%', 485, 203, 13);
label('CD34−', 424, 216, 13, { color: '#7fe05a' });
label('CD34+', 482, 217, 13, { color: '#d23a3a' });
label('CD45', 383, 241, 13, { rotate: true });
label('CD34', 457, 313, 13);
label('A', 115, 11, 21, { bold: true });

// panel B
heatChart(86, 412, 188, 200, corrRows, corrValues, corrStops);
colorBar(96, 636, 166, 14, [0.8, 1], corrTicks, corrStops);
label('B', 10, 378, 22, { bold: true });
label('ASC', 109, 404, 17);
label(['CD34+/', 'CD206+', 'ATMs'], 155, 0, 13, { ys: [373, 387, 401] });
label(['CD34−/', 'CD206+', 'ATMs'], 204, 0, 13, { ys: [373, 387, 401] });
label(['PB-', 'MCs'], 252, 0, 17, { ys: [383, 403] });
label('ASCs', 81, 437, 17, { align: 'right' });
label(['CD34+/', 'CD206+', 'ATMs'], 80, 0, 13, { align: 'right', ys: [470, 483, 497] });
label(['CD34−/', 'CD206+', 'ATMs'], 78, 0, 13, { align: 'right', ys: [523, 537, 552] });
label(['PB-', 'MCs'], 82, 0, 17, { align: 'right', ys: [577, 597] });
label('color range', 178, 624, 18);

// panel C
heatChart(71, 729, 212, 329, null, clusterValues, foldStops);
dendrogram(71, 700, 212, 29, sampleLinks, { type: 'linear', min: 0, max: 4 }, { type: 'linear', min: 0, max: 29 }, false);
dendrogram(0, 729, 71, 329, geneLinks, { type: 'linear', min: 0, max: 71, reverse: true }, { type: 'linear', min: 0, max: 110, reverse: true }, true,
  { data: leafBand, pointRadius: 0, showLine: true, borderColor: '#0a0a0a', borderWidth: 6, clip: false });
label('C', 10, 711, 22, { bold: true });
label('ASCs', 96, 1071, 17);
label(['CD34+/', 'CD206+', 'ATMs'], 152, 0, 13, { ys: [1068, 1083, 1097] });
label(['CD34−/', 'CD206+', 'ATMs'], 204, 0, 13, { ys: [1069, 1085, 1098] });
label(['PB-', 'MCs'], 258, 0, 17, { ys: [1071, 1091] });

// panel D
const dOpts = { labelWidth: 105, colGap: 2.5, rowFill: 0.93 };
heatChart(314, 459, 212, 172, mesenchymalGenes, mesenchymalValues, foldStops, dOpts);
heatChart(314, 644, 212, 84, pericyteGenes, pericyteValues, foldStops, dOpts);
heatChart(314, 741, 212, 142, endothelialGenes, endothelialValues, foldStops, dOpts);
heatChart(314, 896, 212, 84, monocyteGenes, monocyteValues, foldStops, dOpts);
colorBar(350, 1014, 159, 15, [-7.1, 7.1], foldTicks, foldStops);
label('D', 319, 379, 22, { bold: true });
label('ASCs', 343, 449, 17);
label(['CD34+/', 'CD206+', 'ATMs'], 395, 0, 13, { ys: [417, 431, 445] });
label(['CD34−/', 'CD206+', 'ATMs'], 447, 0, 13, { ys: [418, 432, 446] });
label(['PB-', 'MCs'], 500, 0, 17, { ys: [428, 448] });
label('(CD90)', 527, 484, 12, { align: 'left' });
label('(CD146)', 528, 728, 12, { align: 'left' });
label(['Mesenchymal', 'markers'], 622, 0, 18.5, { align: 'left', ys: [538, 557] });
label(['Pericyte', 'markers'], 620, 0, 18.5, { align: 'left', ys: [674, 698] });
label(['Endothelial', 'markers'], 620, 0, 18.5, { align: 'left', ys: [801, 820] });
label(['Monocyte/', 'Macrophage', 'markers'], 621, 0, 18.5, { align: 'left', ys: [918, 937, 957] });
label('color range', 425, 998, 18);
</script>
</body>
</html>
